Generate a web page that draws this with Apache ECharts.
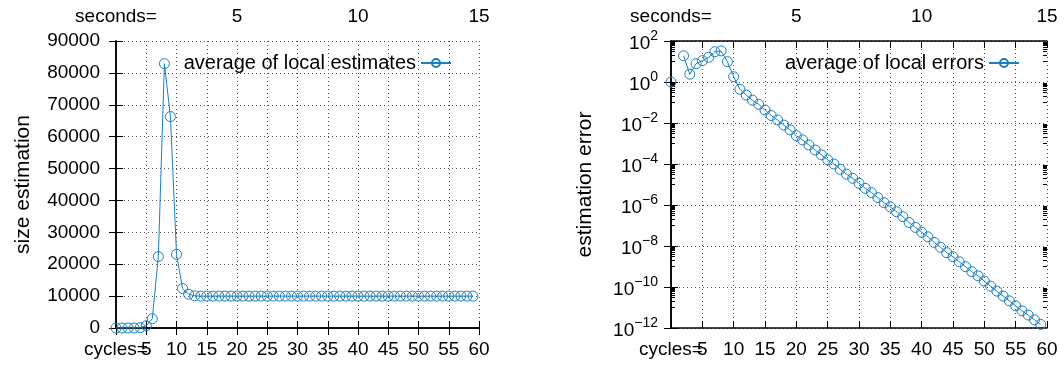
<!DOCTYPE html>
<html>
<head>
<meta charset="utf-8">
<script src="https://cdn.jsdelivr.net/npm/echarts@6/dist/echarts.min.js"></script>
<style>
html,body{margin:0;padding:0;background:#fff;}
#c{width:1064px;height:370px;}
</style>
</head>
<body>
<div id="c"></div>
<script>
// ---- data ----
const cycles = [0,1,2,3,4,5,6,7,8,9,10,11,12,13,14,15,16,17,18,19,20,21,22,23,24,25,26,27,28,29,
  30,31,32,33,34,35,36,37,38,39,40,41,42,43,44,45,46,47,48,49,50,51,52,53,54,55,56,57,58,59];
const sizeEstimates = [0,0,0,0,100,700,2900,22400,82900,66300,23100,12400,10600,10100,10000,
  10000,10000,10000,10000,10000,10000,10000,10000,10000,10000,10000,10000,10000,10000,10000,
  10000,10000,10000,10000,10000,10000,10000,10000,10000,10000,10000,10000,10000,10000,10000,
  10000,10000,10000,10000,10000,10000,10000,10000,10000,10000,10000,10000,10000,10000,10000];
const localErrors = [1.0,null,19,2.4,7.8,11,16,30,33,9.8,1.8,0.44,0.23,0.13,0.081,0.043,0.023,0.014,
  0.0079,0.0046,0.0024,0.0015,8.5e-4,4.8e-4,2.8e-4,1.6e-4,1.0e-4,5.5e-5,3.2e-5,2.0e-5,1.15e-5,
  6.5e-6,4.0e-6,2.3e-6,1.3e-6,8.0e-7,4.7e-7,2.7e-7,1.4e-7,8.1e-8,4.7e-8,2.8e-8,1.5e-8,8.7e-9,
  4.7e-9,3.0e-9,1.7e-9,9.8e-10,5.6e-10,3.5e-10,1.95e-10,1.1e-10,6.3e-11,3.6e-11,2.1e-11,1.2e-11,
  6.9e-12,4.3e-12,2.5e-12,1.5e-12];
const bottomFirstLabel = 'cycles=';
const topFirstLabel = 'seconds=';
const topLabels = [5,10,15];
const seriesNames = ['average of local estimates','average of local errors'];
const axisNames = ['size estimation','estimation error'];
// minor log ticks: k * 10^m for odd m (one decade below each major tick)
const minorDecades = [1,-1,-3,-5,-7,-9,-11];
const minorMultipliers = [1,2,3,4,5,6,7,8,9];

// ---- styling ----
const FONT = 'Liberation Sans';
const FS = 19;
const txt = {fontFamily: FONT, fontSize: FS, color: '#000'};
const txtL = {fontFamily: FONT, fontSize: 20, color: '#000'};
const txtN = {fontFamily: FONT, fontSize: 21, color: '#000'};
const COLOR = '#1a7fbf';
const border = {show: true, lineStyle: {color: '#000', width: 1.5}};
const grid = {show: true, lineStyle: {color: '#555', width: 1, type: [1, 3]}};
const majorTick = {show: true, inside: true, length: 7, lineStyle: {color: '#000'}};

const minorVals = [];
minorDecades.forEach(m => minorMultipliers.forEach(k => minorVals.push(k * Math.pow(10, m))));

function bottomAxis(gi) {
  return {
    type: 'value', gridIndex: gi, position: 'bottom', min: 0, max: 60, interval: 5,
    axisLine: border, axisTick: majorTick, splitLine: grid,
    axisLabel: Object.assign({margin: 12, showMinLabel: true, showMaxLabel: true, hideOverlap: false,
      formatter: v => v === 0 ? '' : String(v)}, txt)
  };
}
function bottomNameAxis(gi) {
  return {
    type: 'value', gridIndex: gi, position: 'bottom', min: 0, max: 60, interval: 60,
    axisLine: {show: false}, axisTick: {show: false}, splitLine: {show: false},
    axisLabel: Object.assign({margin: 12, showMinLabel: true, showMaxLabel: false, hideOverlap: false,
      formatter: v => v === 0 ? bottomFirstLabel : ''}, txt)
  };
}
function topAxis(gi) {
  return {
    type: 'value', gridIndex: gi, position: 'top', min: 0, max: 15, interval: 1.25,
    axisLine: border, axisTick: majorTick, splitLine: {show: false},
    axisLabel: Object.assign({margin: 15, showMinLabel: true, showMaxLabel: true, hideOverlap: false,
      formatter: v => v === 0 ? topFirstLabel : (topLabels.indexOf(v) >= 0 ? String(v) : '')}, txt)
  };
}
function supLabel(v) {
  const e = Math.round(Math.log10(v));
  const s = e < 0 ? '\u2212' + Math.abs(e) : String(e);
  return '{b|10}{s|' + s + '}';
}
function logAxis(pos, main) {
  const a = {type: 'log', logBase: 10, gridIndex: 1, position: pos, min: 1e-12, max: 100, interval: 2,
    axisLine: border, axisTick: majorTick, splitLine: {show: false}, axisLabel: {show: false}};
  if (main) {
    a.name = axisNames[1]; a.nameLocation = 'middle'; a.nameGap = 75; a.nameTextStyle = txtN;
    a.splitLine = grid;
    a.axisLabel = {margin: 13, showMinLabel: true, showMaxLabel: true, formatter: supLabel, rich: {
      b: {fontFamily: FONT, fontSize: FS, color: '#000', lineHeight: 24, verticalAlign: 'bottom'},
      s: {fontFamily: FONT, fontSize: 14, color: '#000', lineHeight: 14, verticalAlign: 'top'}
    }};
  }
  return a;
}
function minorLogAxis(pos) {
  return {type: 'log', logBase: 10, gridIndex: 1, position: pos, min: 1e-12, max: 100,
    axisLine: {show: false}, splitLine: {show: false}, axisLabel: {show: false},
    axisTick: {show: true, inside: true, length: 4, customValues: minorVals, lineStyle: {color: '#000'}}};
}

const option = {
  animation: false,
  backgroundColor: '#fff',
  grid: [
    {left: 116, top: 41, width: 363, height: 287},
    {left: 671, top: 41, width: 376, height: 287}
  ],
  legend: [
    {data: [seriesNames[0]], right: 1064 - 452, top: 53, align: 'right', itemWidth: 30, itemHeight: 10,
     textStyle: txtL, padding: 0, selectedMode: false},
    {data: [seriesNames[1]], right: 1064 - 1020, top: 53, align: 'right', itemWidth: 30, itemHeight: 10,
     textStyle: txtL, padding: 0, selectedMode: false}
  ],
  xAxis: [bottomAxis(0), topAxis(0), bottomAxis(1), topAxis(1), bottomNameAxis(0), bottomNameAxis(1)],
  yAxis: [
    {type: 'value', gridIndex: 0, position: 'left', min: 0, max: 90000, interval: 10000,
     name: axisNames[0], nameLocation: 'middle', nameGap: 82, nameTextStyle: txtN,
     axisLine: border, axisTick: majorTick, splitLine: grid,
     axisLabel: Object.assign({margin: 16, showMinLabel: true, showMaxLabel: true, formatter: v => String(v)}, txt)},
    {type: 'value', gridIndex: 0, position: 'right', min: 0, max: 90000, interval: 10000,
     axisLine: border, axisTick: majorTick, splitLine: {show: false}, axisLabel: {show: false}},
    logAxis('left', true),
    logAxis('right', false),
    minorLogAxis('left'),
    minorLogAxis('right')
  ],
  series: [
    {name: seriesNames[0], type: 'line', xAxisIndex: 0, yAxisIndex: 0,
     data: cycles.map((c, i) => [c, sizeEstimates[i]]),
     symbol: 'circle', symbolSize: 10, color: COLOR,
     lineStyle: {width: 1, color: COLOR},
     itemStyle: {color: 'rgba(255,255,255,0)', borderColor: COLOR, borderWidth: 1}},
    {name: seriesNames[1], type: 'line', xAxisIndex: 2, yAxisIndex: 2,
     data: cycles.map((c, i) => [c, localErrors[i]]),
     symbol: 'circle', symbolSize: 10, color: COLOR, connectNulls: false,
     lineStyle: {width: 1, color: COLOR},
     itemStyle: {color: 'rgba(255,255,255,0)', borderColor: COLOR, borderWidth: 1}}
  ]
};
const chart = echarts.init(document.getElementById('c'), null, {renderer: 'canvas'});
chart.setOption(option);
</script>
</body>
</html>
